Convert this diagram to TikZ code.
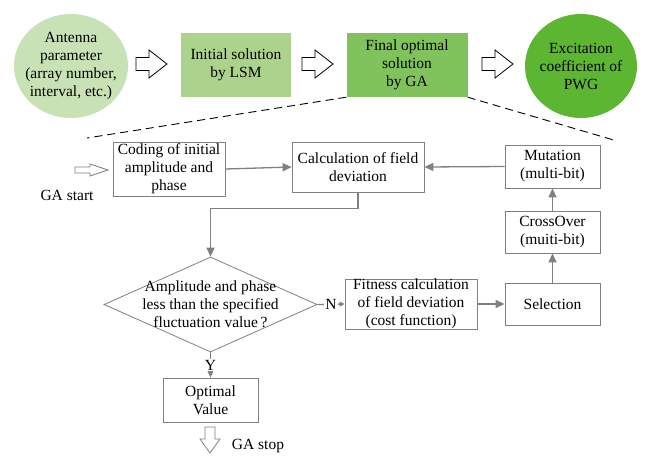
\documentclass[tikz,border=0pt]{standalone}
\usepackage{fontspec}
\setmainfont{Liberation Serif}
\usepackage{tikz}
\usetikzlibrary{arrows.meta, shapes.geometric}
\definecolor{paleleaf}{RGB}{200, 226, 182}
\definecolor{lightleaf}{RGB}{172, 211, 140}
\definecolor{midleaf}{RGB}{128, 194, 92}
\definecolor{deepleaf}{RGB}{92, 182, 50}
\definecolor{linegray}{RGB}{128, 128, 128}

\begin{document}
\begin{tikzpicture}[x=1pt, y=-1pt,
  every node/.style={font=\fontsize{15.5}{18}\selectfont, align=center, inner sep=0pt, text=black},
  topblob/.style={ellipse, minimum width=114pt, minimum height=104pt},
  topbox/.style={rectangle, minimum height=64pt},
  flowbox/.style={rectangle, draw=linegray, line width=0.8pt},
  decision/.style={diamond, draw=linegray, line width=0.8pt, minimum width=213pt, minimum height=95pt},
  conn/.style={linegray, line width=1.3pt, -{Triangle[length=9pt, width=8pt]}},
  fatarrow/.style={draw=black, fill=white, line width=0.8pt, line join=miter},
  thinarrow/.style={draw=linegray, fill=white, line width=0.8pt, line join=miter}]

\useasboundingbox (0,0) rectangle (645,458);

% Top row
\node[topblob, fill=paleleaf, label=center:{Antenna\\parameter\\(array number,\\interval, etc.)}] (ant) at (71,66) {};
\node[topbox, fill=lightleaf, minimum width=110pt] (lsm) at (236,65) {Initial solution\\by LSM};
\node[topbox, fill=midleaf, minimum width=121pt] (ga) at (407,65) {Final optimal\\solution\\by GA};
\node[topblob, fill=deepleaf, minimum width=112pt, label=center:{Excitation\\coefficient of\\PWG}] (pwg) at (581,66) {};

% Block arrows between the stages
\foreach \ax in {136,302,482}
  \draw[fatarrow] (\ax,57.5) -- ++(13,0) -- ++(0,-7.5) -- ++(18,14) -- ++(-18,14) -- ++(0,-7.5) -- ++(-13,0) -- cycle;

% Zoom lines
\coordinate (zl) at (87,138);
\coordinate (zr) at (617,141);
\draw[line width=0.9pt, dash pattern=on 8pt off 5pt] (ga.south west) -- (zl);
\draw[line width=0.9pt, dash pattern=on 8pt off 5pt] (ga.south east) -- (zr);

% GA flow
\node[flowbox, minimum width=112pt, minimum height=54pt] (code) at (169,169) {Coding of initial\\amplitude and\\phase};
\node[flowbox, minimum width=132pt, minimum height=50pt] (calc) at (358,167) {Calculation of field\\deviation};
\node[flowbox, minimum width=95pt, minimum height=43pt] (mut) at (552.5,166.5) {Mutation\\(multi-bit)};
\node[flowbox, minimum width=95pt, minimum height=42pt] (cross) at (552.5,232) {CrossOver\\(muiti-bit)};
\node[flowbox, minimum width=95pt, minimum height=42pt] (sel) at (552.5,304) {Selection};
\node[flowbox, minimum width=132pt, minimum height=50pt] (fit) at (411,304) {Fitness calculation\\of field deviation\\(cost function)};
\node[decision, label=center:{Amplitude and phase\\less than the specified\\fluctuation value\,?}] (dia) at (210.5,304.5) {};
\node[flowbox, minimum width=95pt, minimum height=44pt] (opt) at (210.5,400) {Optimal\\Value};

% Start and stop
\draw[thinarrow] (75,167) -- (90,167) -- (90,164) -- (108,170) -- (90,176) -- (90,173) -- (75,173) -- cycle;
\node (gastart) at (67,195) {GA start};
\draw[thinarrow] (205,427) -- (215,427) -- (215,439) -- (220,439) -- (210,453) -- (200,439) -- (205,439) -- cycle;
\node (gastop) at (258,446) {GA stop};

% Connectors
\draw[conn] (code.east) -- (calc.west);
\draw[conn] (calc.south) -- ++(0,16) -| (dia.north);
\draw[linegray, line width=1.3pt, -{Triangle[length=5pt, width=5pt]}] (dia.east) -- node[fill=white, inner sep=1pt] (nlab) {N} (fit.west);
\draw[conn] (fit.east) -- (sel.west);
\draw[conn] (sel.north) -- (cross.south);
\draw[conn] (cross.north) -- (mut.south);
\draw[conn] (mut.west) -- (calc.east);
\draw[conn] (dia.south) -- node[fill=white, inner sep=1pt] (ylab) {Y} (opt.north);

\end{tikzpicture}
\end{document}
